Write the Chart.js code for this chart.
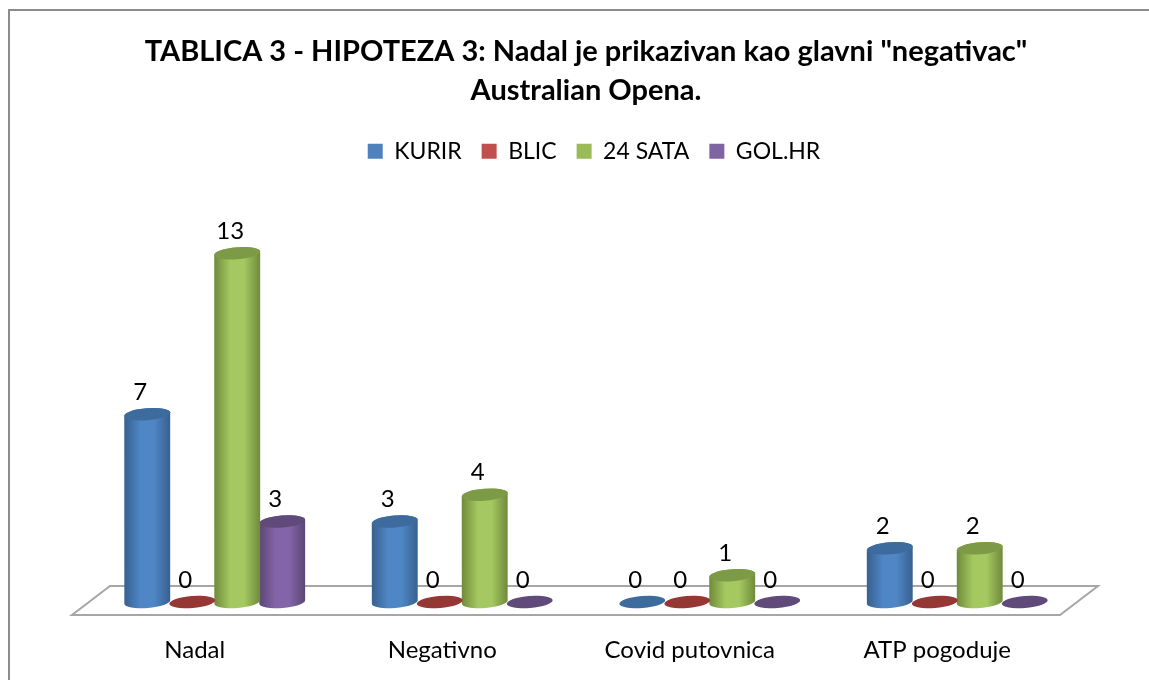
<!DOCTYPE html>
<html>
<head>
<meta charset="utf-8">
<script src="https://cdn.jsdelivr.net/npm/chart.js@4"></script>
<style>
    html, body { margin: 0; padding: 0; background: #fff; overflow: hidden; }
    #frame { position: absolute; left: 8px; top: 9px; width: 1160px; height: 700px; border: 2px solid #8c8c8c; box-sizing: border-box; }
    #wrap { position: absolute; left: 0; top: 0; width: 1149px; height: 680px; }
</style>
</head>
<body>
<div id="frame"></div>
<div id="wrap"><canvas id="chart"></canvas></div>
<script>
"use strict";

const categories = ["Nadal", "Negativno", "Covid putovnica", "ATP pogoduje"];
const kurir = [7, 3, 0, 2];
const blic = [0, 0, 0, 0];
const sata24 = [13, 4, 1, 2];
const golHr = [3, 0, 0, 0];

const titleLines = ["TABLICA 3 - HIPOTEZA 3: Nadal je prikazivan kao glavni \"negativac\"", "Australian Opena."];
const fontName = "Lato";

// colours of each cylinder: legend, edge of the body, middle of the body, top cap
const blue = ["#4f81bd", "#37608f", "#4f86c6", "#3e6b9e"];
const red = ["#c0504d", "#8f3230", "#c0504d", "#953735"];
const green = ["#9bbb59", "#6f8a3b", "#a5c860", "#7d9b47"];
const purple = ["#8064a2", "#5b4676", "#8464a8", "#5f4a7a"];

function drawFloor(chart) {
    const ctx = chart.ctx;
    const x = chart.scales.x;
    const base = chart.scales.y.getPixelForValue(0);

    ctx.save();
    ctx.strokeStyle = "#a6a6a6";
    ctx.lineWidth = 2;
    ctx.beginPath();
    ctx.moveTo(x.left - 19, base + 13);
    ctx.lineTo(x.right - 21, base + 13);
    ctx.lineTo(x.right + 17, base - 16);
    ctx.lineTo(x.left + 19, base - 16);
    ctx.closePath();
    ctx.stroke();
    ctx.restore();
}

function drawCylinder(ctx, bar, colors) {
    const rx = bar.width / 2 + 0.5;
    const ry = 6;
    const tilt = -0.08;

    if (bar.y < bar.base) {
        const gradient = ctx.createLinearGradient(bar.x - rx, 0, bar.x + rx, 0);
        gradient.addColorStop(0, colors[1]);
        gradient.addColorStop(0.35, colors[2]);
        gradient.addColorStop(0.65, colors[2]);
        gradient.addColorStop(1, colors[1]);

        ctx.fillStyle = gradient;
        ctx.beginPath();
        ctx.ellipse(bar.x, bar.base, rx, ry, tilt, 0, Math.PI);
        ctx.lineTo(bar.x - rx, bar.y);
        ctx.ellipse(bar.x, bar.y, rx, ry, tilt, Math.PI, 0);
        ctx.closePath();
        ctx.fill();
    }

    ctx.fillStyle = colors[3];
    ctx.beginPath();
    ctx.ellipse(bar.x, bar.y, rx, ry, tilt, 0, Math.PI * 2);
    ctx.fill();
}

const cylinderPlugin = {
    id: "cylinders",
    afterLayout(chart) {
        // the legend sits a little right of the chart centre
        chart.legend.left += 8;
        chart.legend.right += 8;
    },
    beforeDatasetsDraw(chart) {
        drawFloor(chart);
    },
    beforeDatasetDraw(chart, args) {
        const ctx = chart.ctx;
        const dataset = chart.data.datasets[args.index];
        args.meta.data.forEach(function (bar) {
            drawCylinder(ctx, bar, dataset.cylinderColors);
        });
        return false;
    },
    afterDatasetsDraw(chart) {
        const ctx = chart.ctx;
        ctx.save();
        ctx.fillStyle = "#000";
        ctx.font = "24px " + fontName;
        ctx.textAlign = "center";
        ctx.textBaseline = "middle";
        chart.data.datasets.forEach(function (dataset, i) {
            chart.getDatasetMeta(i).data.forEach(function (bar, j) {
                ctx.fillText(dataset.data[j], bar.x - 7, bar.y - 22);
            });
        });
        ctx.restore();
    }
};

new Chart(document.getElementById("chart"), {
    type: "bar",
    data: {
        labels: categories,
        datasets: [
            { label: "KURIR", data: kurir, backgroundColor: blue[0], cylinderColors: blue },
            { label: "BLIC", data: blic, backgroundColor: red[0], cylinderColors: red },
            { label: "24 SATA", data: sata24, backgroundColor: green[0], cylinderColors: green },
            { label: "GOL.HR", data: golHr, backgroundColor: purple[0], cylinderColors: purple }
        ]
    },
    plugins: [cylinderPlugin],
    options: {
        responsive: true,
        maintainAspectRatio: false,
        animation: false,
        devicePixelRatio: 1,
        layout: { padding: { left: 91, right: 68, top: 32, bottom: 0 } },
        datasets: { bar: { barPercentage: 1, categoryPercentage: 0.727 } },
        scales: {
            x: {
                grid: { display: false },
                border: { display: false },
                afterFit(scale) {
                    scale.height = 78;
                },
                ticks: { color: "#000", padding: 26, labelOffset: -20, maxRotation: 0, font: { family: fontName, size: 24 } }
            },
            y: { display: false, min: 0, max: 16 }
        },
        plugins: {
            title: {
                display: true,
                text: titleLines,
                color: "#000",
                padding: { top: 0, bottom: 10 },
                font: { family: fontName, size: 29, weight: "bold", lineHeight: 1.34 }
            },
            legend: {
                position: "top",
                labels: { color: "#000", boxWidth: 15, boxHeight: 15, padding: 20, font: { family: fontName, size: 23 } }
            },
            tooltip: { enabled: false }
        }
    }
});
</script>
</body>
</html>
